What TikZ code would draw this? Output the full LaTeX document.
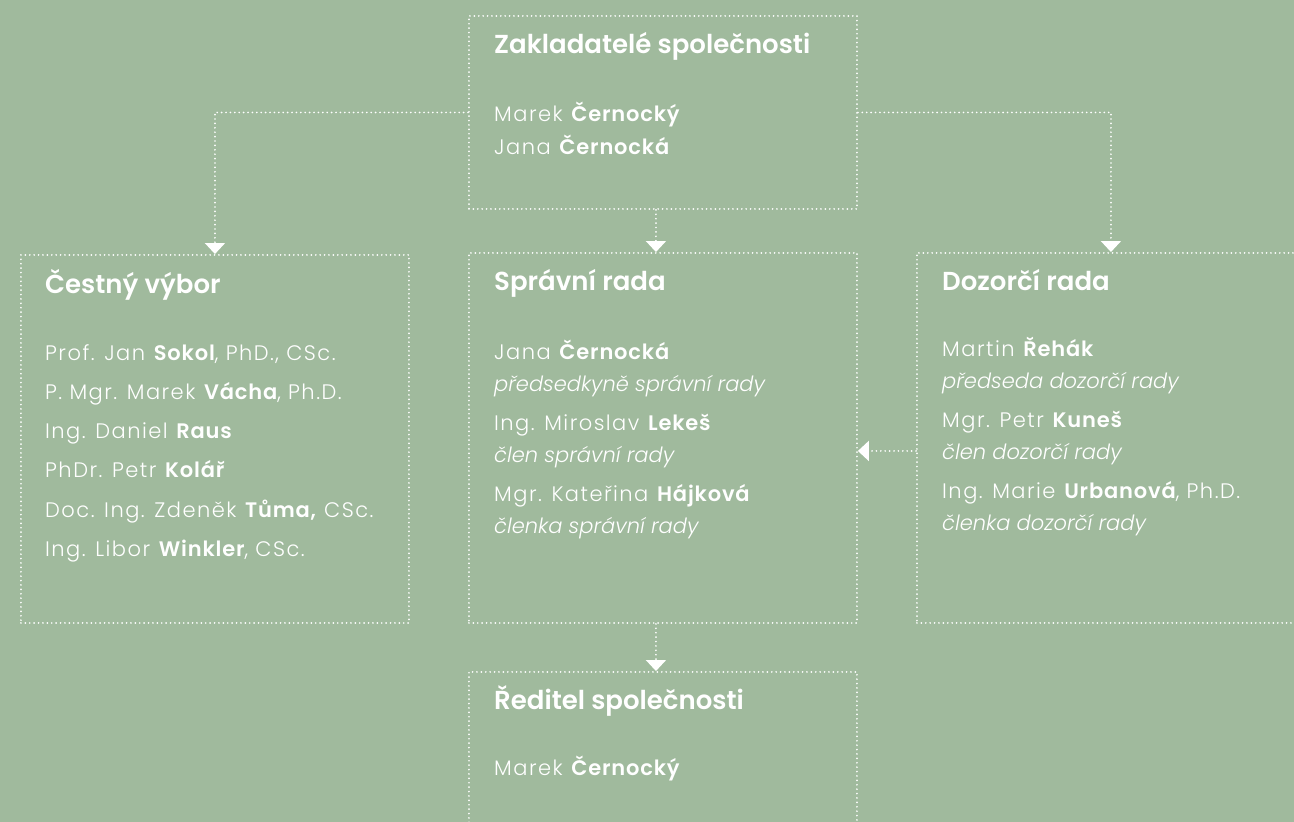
\documentclass[tikz,border=0pt]{standalone}
\usepackage{fontspec}
\setmainfont{Poppins}[UprightFont={* Light},BoldFont={* SemiBold},ItalicFont={* Light Italic},BoldItalicFont={* SemiBold Italic},
  UprightFeatures={LetterSpace=7},BoldFeatures={LetterSpace=4}]
\newfontfamily\titlefont{Poppins SemiBold}
\usetikzlibrary{arrows.meta,positioning}
\definecolor{sage}{HTML}{A0BA9D}

\begin{document}
\begin{tikzpicture}[x=1pt,y=1pt,
    box/.style={draw=white, line width=1.9pt, line cap=round, dash pattern=on 0pt off 4.4pt,
      minimum width=388pt, inner sep=0pt, anchor=north west},
    title/.style={anchor=base west, inner sep=0pt, text=white, font=\titlefont\fontsize{26}{30}\selectfont},
    body/.style={anchor=base west, inner sep=0pt, text=white, align=left},
    link/.style={draw=white, line width=1.9pt, line cap=round, dash pattern=on 0pt off 4.4pt,
      -{Triangle[width=20pt,length=11pt]}}]
    \fill[sage] (0,0) rectangle (1294,-822);
    \useasboundingbox (0,0) rectangle (1294,-822);

    % Zakladatele
    \node[box, minimum height=193pt] (zak) at (468,-15) {};
    \node[title] (zakT) at (494,-53) {Zakladatelé společnosti};
    \node[body, font=\fontsize{21}{33}\selectfont] (zakB) at (494,-154)
      {Marek \textbf{Černocký}\\Jana \textbf{Černocká}};

    % Cestny vybor
    \node[box, minimum height=368pt] (cest) at (20,-254) {};
    \node[title] (cestT) at (45,-293) {Čestný výbor};
    \node[body, font=\fontsize{21}{39.3}\selectfont] (cestB) at (45,-556.5)
      {Prof. Jan \textbf{Sokol}, PhD., CSc.\\
       P. Mgr. Marek \textbf{Vácha}, Ph.D.\\
       Ing. Daniel \textbf{Raus}\\
       PhDr. Petr \textbf{Kolář}\\
       Doc. Ing. Zdeněk \textbf{Tůma,} CSc.\\
       Ing. Libor \textbf{Winkler}, CSc.};

    % Spravni rada
    \node[box, minimum height=370pt] (sprav) at (468,-252) {};
    \node[title] (spravT) at (494,-290) {Správní rada};
    \node[body, font=\fontsize{21}{32}\selectfont] (spravB) at (494,-533)
      {Jana \textbf{Černocká}\\
       \textit{předsedkyně správní rady}\\[7pt]
       Ing. Miroslav \textbf{Lekeš}\\
       \textit{člen správní rady}\\[7pt]
       Mgr. Kateřina \textbf{Hájková}\\
       \textit{členka správní rady}};

    % Dozorci rada
    \node[box, minimum height=370pt] (dozor) at (916,-252) {};
    \node[title] (dozorT) at (942,-290) {Dozorčí rada};
    \node[body, font=\fontsize{21}{32}\selectfont] (dozorB) at (942,-530)
      {Martin \textbf{Řehák}\\
       \textit{předseda dozorčí rady}\\[7pt]
       Mgr. Petr \textbf{Kuneš}\\
       \textit{člen dozorčí rady}\\[7pt]
       Ing. Marie \textbf{Urbanová}, Ph.D.\\
       \textit{členka dozorčí rady}};

    % Reditel
    \node[box, minimum height=200pt] (red) at (468,-671) {};
    \node[title] (redT) at (494,-709) {Ředitel společnosti};
    \node[body, font=\fontsize{21}{33}\selectfont] (redB) at (494,-775)
      {Marek \textbf{Černocký}};

    % vazby
    \draw[link] (zak.west) -| (cest.north);
    \draw[link] (zak.east) -| (dozor.north);
    \coordinate (zakOut) at ([xshift=-7pt]zak.south);
    \draw[link] (zakOut) -- (zakOut |- sprav.north);
    \coordinate (spravOut) at ([xshift=-7pt]sprav.south);
    \draw[link] (spravOut) -- (spravOut |- red.north);
    \coordinate (dozorIn) at ([yshift=-13pt]dozor.west);
    \draw[link] (dozorIn) -- (dozorIn -| sprav.east);
\end{tikzpicture}
\end{document}
